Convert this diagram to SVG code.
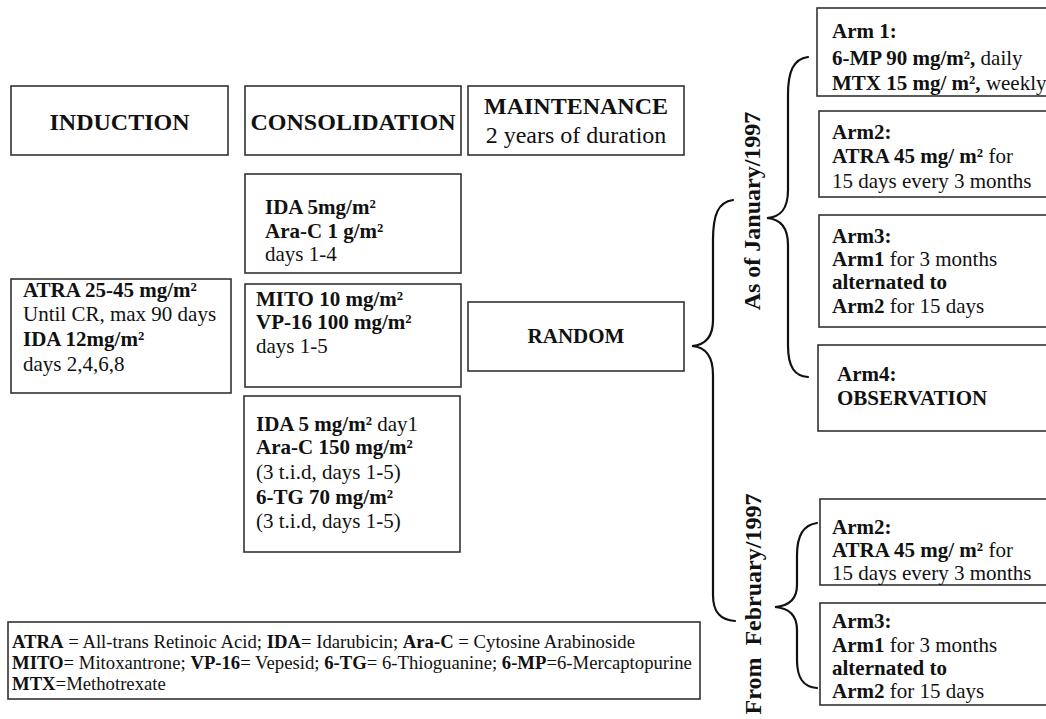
<svg xmlns="http://www.w3.org/2000/svg" width="1046" height="719" viewBox="0 0 1046 719">
<style>
text{font-family:"Liberation Serif","Times New Roman",serif;fill:#111;}
.b{font-weight:bold;}
.h{font-size:24px;font-weight:bold;}
.t{font-size:21px;}
.lg{font-size:18.7px;}
.box{fill:#fff;stroke:#333;stroke-width:1.6;}
.br{fill:none;stroke:#111;stroke-width:2.2;stroke-linecap:round;}
</style>
<rect width="1046" height="719" fill="#fff"/>
<g id="induction-h"><rect class="box" x="11" y="86" width="217" height="69"/><text class="h" x="119.5" y="130" text-anchor="middle">INDUCTION</text></g>
<g id="consolidation-h"><rect class="box" x="245" y="86" width="216" height="69"/><text class="h" x="353" y="130" text-anchor="middle">CONSOLIDATION</text></g>
<g id="maintenance-h"><rect class="box" x="468" y="86" width="216" height="69"/><text class="h" x="576" y="114" text-anchor="middle">MAINTENANCE</text><text x="576" y="143" text-anchor="middle" style="font-size:24px">2 years of duration</text></g>
<g id="induction"><rect class="box" x="11" y="279" width="220" height="114"/>
<text class="t" x="23" y="297"><tspan class="b">ATRA 25-45 mg/m²</tspan><tspan x="23" y="321">Until CR, max 90 days</tspan><tspan x="23" y="346" class="b">IDA 12mg/m²</tspan><tspan x="23" y="371">days 2,4,6,8</tspan></text></g>
<g id="cons1"><rect class="box" x="245" y="174" width="216" height="99"/>
<text class="t" x="265" y="214"><tspan class="b">IDA 5mg/m²</tspan><tspan x="265" y="238" class="b">Ara-C 1 g/m²</tspan><tspan x="265" y="261">days 1-4</tspan></text></g>
<g id="cons2"><rect class="box" x="245" y="284" width="216" height="103"/>
<text class="t" x="256" y="306"><tspan class="b">MITO 10 mg/m²</tspan><tspan x="256" y="329" class="b">VP-16 100 mg/m²</tspan><tspan x="256" y="353">days 1-5</tspan></text></g>
<g id="cons3"><rect class="box" x="244" y="396" width="216" height="156"/>
<text class="t" x="256" y="431"><tspan class="b">IDA 5 mg/m²</tspan> day1<tspan x="256" y="454" class="b">Ara-C 150 mg/m²</tspan><tspan x="256" y="479">(3 t.i.d, days 1-5)</tspan><tspan x="256" y="504" class="b">6-TG 70 mg/m²</tspan><tspan x="256" y="528">(3 t.i.d, days 1-5)</tspan></text></g>
<g id="random"><rect class="box" x="468" y="302" width="216" height="69"/><text class="b" x="576" y="343" text-anchor="middle" style="font-size:21px">RANDOM</text></g>
<g id="label-jan"><text class="h" transform="translate(760,211) rotate(-90)" text-anchor="middle">As of January/1997</text></g>
<g id="label-feb"><text class="h" transform="translate(761,604) rotate(-90)" text-anchor="middle" xml:space="preserve">From  February/1997</text></g>
<g id="arm1"><rect class="box" x="817" y="8" width="240" height="88"/>
<text class="t" x="832" y="38"><tspan class="b">Arm 1:</tspan><tspan x="832" y="65"><tspan class="b">6-MP 90 mg/m²,</tspan> daily</tspan><tspan x="832" y="90"><tspan class="b">MTX 15 mg/ m²,</tspan> weekly</tspan></text></g>
<g id="arm2"><rect class="box" x="819" y="111" width="240" height="86"/>
<text class="t" x="832" y="139"><tspan class="b">Arm2:</tspan><tspan x="832" y="163"><tspan class="b">ATRA 45 mg/ m²</tspan> for</tspan><tspan x="832" y="188">15 days every 3 months</tspan></text></g>
<g id="arm3"><rect class="box" x="819" y="215" width="240" height="112"/>
<text class="t" x="832" y="243"><tspan class="b">Arm3:</tspan><tspan x="832" y="266"><tspan class="b">Arm1</tspan> for 3 months</tspan><tspan x="832" y="289" class="b">alternated to</tspan><tspan x="832" y="313"><tspan class="b">Arm2</tspan> for 15 days</tspan></text></g>
<g id="arm4"><rect class="box" x="818" y="345" width="240" height="86"/>
<text class="t b" x="837" y="381">Arm4:<tspan x="837" y="405">OBSERVATION</tspan></text></g>
<g id="arm2b"><rect class="box" x="820" y="499" width="240" height="86"/>
<text class="t" x="832" y="534"><tspan class="b">Arm2:</tspan><tspan x="832" y="557"><tspan class="b">ATRA 45 mg/ m²</tspan> for</tspan><tspan x="832" y="580">15 days every 3 months</tspan></text></g>
<g id="arm3b"><rect class="box" x="820" y="603" width="240" height="102"/>
<text class="t" x="832" y="628"><tspan class="b">Arm3:</tspan><tspan x="832" y="652"><tspan class="b">Arm1</tspan> for 3 months</tspan><tspan x="832" y="675" class="b">alternated to</tspan><tspan x="832" y="698"><tspan class="b">Arm2</tspan> for 15 days</tspan></text></g>
<g id="legend"><rect class="box" x="8" y="622" width="692" height="77"/>
<text class="lg" x="12" y="648"><tspan class="b">ATRA</tspan> = All-trans Retinoic Acid; <tspan class="b">IDA</tspan>= Idarubicin; <tspan class="b">Ara-C</tspan> = Cytosine Arabinoside<tspan x="12" y="669"><tspan class="b">MITO</tspan>= Mitoxantrone; <tspan class="b">VP-16</tspan>= Vepesid; <tspan class="b">6-TG</tspan>= 6-Thioguanine; <tspan class="b">6-MP</tspan>=6-Mercaptopurine</tspan><tspan x="12" y="690"><tspan class="b">MTX</tspan>=Methotrexate</tspan></text></g>
<g id="connectors">
<path class="br" d="M733,200 C718,202 713,215 713,240 L713,320 C713,338 705,345 692,346 C705,347 713,355 713,375 L713,595 C713,612 720,620 735,621"/>
<path class="br" d="M808,57 C793,59 788,72 788,95 L788,190 C788,210 780,217 767,218 C780,219 788,227 788,245 L788,345 C788,368 795,376 808,377"/>
<path class="br" d="M817,523 C802,525 797,538 797,555 L797,585 C797,600 788,606 775,607 C788,608 797,614 797,630 L797,660 C797,678 803,687 817,688"/>
</g>
</svg>
